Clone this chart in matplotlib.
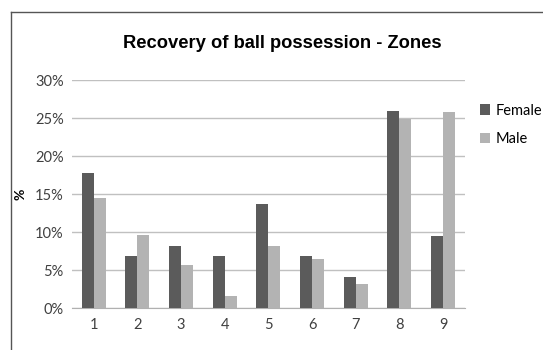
import matplotlib
matplotlib.use("Agg")
import matplotlib.pyplot as plt
from matplotlib.lines import Line2D
from matplotlib.ticker import PercentFormatter
import numpy as np

zones = ["1", "2", "3", "4", "5", "6", "7", "8", "9"]
female = [17.8, 6.8, 8.1, 6.8, 13.7, 6.8, 4.1, 26.0, 9.5]
male = [14.5, 9.6, 5.6, 1.6, 8.1, 6.4, 3.1, 24.9, 25.8]

plt.rcParams.update({
    "font.family": ["Lato", "DejaVu Sans"],
    "font.size": 10,
})

fig = plt.figure(figsize=(5.43, 3.5), dpi=100)
ax = fig.add_axes([0.1326, 0.12, 0.7235, 0.651])

x = np.arange(len(zones))
w = 0.275
ax.bar(x - w / 2, female, w, color="#5b5b5b", label="Female", zorder=3)
ax.bar(x + w / 2, male, w, color="#b3b3b3", label="Male", zorder=3)

ax.set_xlim(-0.5, len(zones) - 0.5)
ax.set_ylim(0, 30)
ax.set_yticks(np.arange(0, 31, 5))
ax.yaxis.set_major_formatter(PercentFormatter(decimals=0))
ax.set_xticks(x)
ax.set_xticklabels(zones)
ax.tick_params(length=0, labelsize=10.5, colors="#404040")
ax.tick_params(axis="y", pad=6)
ax.tick_params(axis="x", pad=7)
ax.grid(axis="y", color="#c0c0c0", linewidth=1, zorder=0)
for side in ["top", "right", "left"]:
    ax.spines[side].set_visible(False)
ax.spines["bottom"].set_color("#b0b0b0")

ax.set_ylabel("%", fontweight="bold", fontsize=10, labelpad=6)

fig.text(0.52, 0.877, "Recovery of ball possession - Zones", ha="center", va="center",
         fontsize=13.2, fontweight="bold", family="Liberation Sans")

ax.legend(loc="upper left", bbox_to_anchor=(1.005, 0.955), frameon=False,
          handlelength=0.7, handleheight=0.7, handletextpad=0.35, labelspacing=1.0,
          fontsize=10.5)

# outer chart frame (cut off at the right and bottom)
fig.add_artist(Line2D([11 / 543, 11 / 543], [0, 1 - 12 / 350], color="#555555", lw=1))
fig.add_artist(Line2D([11 / 543, 1], [1 - 12 / 350, 1 - 12 / 350], color="#555555", lw=1))

fig.savefig("out.png", dpi=100)
